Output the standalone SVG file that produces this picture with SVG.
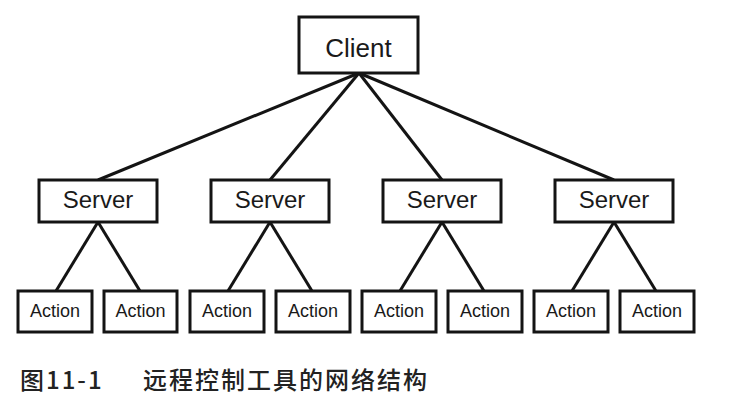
<svg xmlns="http://www.w3.org/2000/svg" width="748" height="400" viewBox="0 0 748 400">
<style>
.box{fill:#fff;stroke:#141414;stroke-width:3}
.lbl{font-family:"Liberation Sans","DejaVu Sans",sans-serif;fill:#1a1a1a;text-anchor:middle}
.c{font-size:26px}
.s{font-size:24px}
.a{font-size:18px}
.con line{stroke:#141414;stroke-width:3}
.cap{font-family:"Noto Sans CJK SC","Noto Sans",sans-serif;font-size:24px;font-weight:500;fill:#222;letter-spacing:2px}
</style>
<rect width="748" height="400" fill="#fff"/>
<g id="connectors" class="con">
<line x1="359" y1="73" x2="98" y2="180"/>
<line x1="359" y1="73" x2="270" y2="180"/>
<line x1="359" y1="73" x2="442" y2="180"/>
<line x1="359" y1="73" x2="614" y2="180"/>
<line x1="98" y1="222" x2="56" y2="291"/>
<line x1="98" y1="222" x2="140" y2="291"/>
<line x1="270" y1="222" x2="228" y2="291"/>
<line x1="270" y1="222" x2="312" y2="291"/>
<line x1="442" y1="222" x2="400" y2="291"/>
<line x1="442" y1="222" x2="484" y2="291"/>
<line x1="614" y1="222" x2="572" y2="291"/>
<line x1="614" y1="222" x2="656" y2="291"/>
</g>
<g id="client"><rect class="box" x="299" y="17" width="119" height="56"/><text class="lbl c" x="358.5" y="57">Client</text></g>
<g id="server1"><rect class="box" x="39" y="180" width="118" height="42"/><text class="lbl s" x="98" y="208">Server</text></g>
<g id="server2"><rect class="box" x="211" y="180" width="118" height="42"/><text class="lbl s" x="270" y="208">Server</text></g>
<g id="server3"><rect class="box" x="383" y="180" width="118" height="42"/><text class="lbl s" x="442" y="208">Server</text></g>
<g id="server4"><rect class="box" x="555" y="180" width="118" height="42"/><text class="lbl s" x="614" y="208">Server</text></g>
<g id="action1"><rect class="box" x="18" y="291" width="74" height="41"/><text class="lbl a" x="55" y="317">Action</text></g>
<g id="action2"><rect class="box" x="104" y="291" width="73" height="41"/><text class="lbl a" x="140.5" y="317">Action</text></g>
<g id="action3"><rect class="box" x="190" y="291" width="74" height="41"/><text class="lbl a" x="227" y="317">Action</text></g>
<g id="action4"><rect class="box" x="276" y="291" width="74" height="41"/><text class="lbl a" x="313" y="317">Action</text></g>
<g id="action5"><rect class="box" x="362" y="291" width="74" height="41"/><text class="lbl a" x="399" y="317">Action</text></g>
<g id="action6"><rect class="box" x="448" y="291" width="74" height="41"/><text class="lbl a" x="485" y="317">Action</text></g>
<g id="action7"><rect class="box" x="534" y="291" width="74" height="41"/><text class="lbl a" x="571" y="317">Action</text></g>
<g id="action8"><rect class="box" x="620" y="291" width="74" height="41"/><text class="lbl a" x="657" y="317">Action</text></g>
<g id="caption">
<text class="cap" x="20" y="389">图11-1</text>
<text class="cap" x="143" y="389">远程控制工具的网络结构</text>
</g>
</svg>
